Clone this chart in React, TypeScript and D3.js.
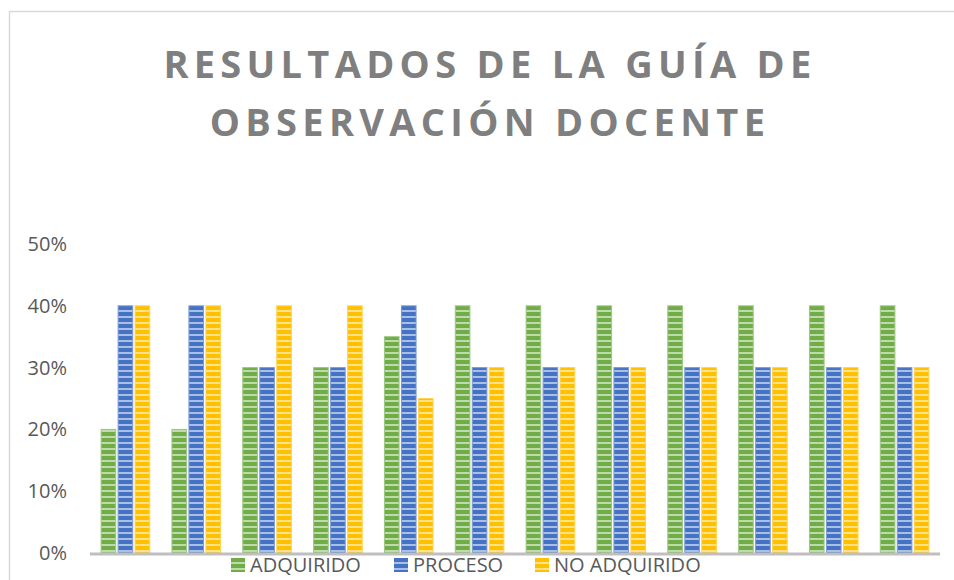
import React from 'react'
import * as d3 from 'd3'

const categories = ['1', '2', '3', '4', '5', '6', '7', '8', '9', '10', '11', '12']
const adquirido = [0.2, 0.2, 0.3, 0.3, 0.35, 0.4, 0.4, 0.4, 0.4, 0.4, 0.4, 0.4]
const proceso = [0.4, 0.4, 0.3, 0.3, 0.4, 0.3, 0.3, 0.3, 0.3, 0.3, 0.3, 0.3]
const noAdquirido = [0.4, 0.4, 0.4, 0.4, 0.25, 0.3, 0.3, 0.3, 0.3, 0.3, 0.3, 0.3]
const seriesNames = ['ADQUIRIDO', 'PROCESO', 'NO ADQUIRIDO']
const yTicks = [0, 0.1, 0.2, 0.3, 0.4, 0.5]
const titleLines = ['RESULTADOS DE LA GUÍA DE', 'OBSERVACIÓN DOCENTE']

const colors = ['#70AD47', '#4472C4', '#FFC000']
const edgeColors = ['#9cc781', '#7b9bd6', '#ffd350']

const width = 954
const height = 580
const margin = { top: 244, right: 14, bottom: 27, left: 90 }

export default function App() {
  const series = [adquirido, proceso, noAdquirido]

  const x0 = d3.scaleBand<string>()
    .domain(categories)
    .range([margin.left, width - margin.right])
    .paddingInner(0.3)
    .paddingOuter(0.15)

  const x1 = d3.scaleBand<number>()
    .domain([0, 1, 2])
    .range([0, x0.bandwidth()])
    .paddingInner(0.08)

  const y = d3.scaleLinear()
    .domain([0, 0.5])
    .range([height - margin.bottom, margin.top])

  const pct = d3.format('.0%')

  // posiciones de la leyenda
  const legendX = [231, 394, 535]

  return (
    <svg width={width} height={height} style={{ position: 'absolute', left: 0, top: 0, background: '#fff' }}>
      <defs>
        {colors.map((c, i) => (
          <pattern key={i} id={`stripe${i}`} width={6} height={6} patternUnits="userSpaceOnUse">
            <rect width={6} height={6} fill={c} />
            <rect y={4} width={6} height={2} fill="#fff" opacity={0.55} />
          </pattern>
        ))}
      </defs>

      {/* borde del área */}
      <path d="M9.5,590 V11.5 H960" fill="none" stroke="#d9d9d9" strokeWidth={1.5} />

      {/* título */}
      <text
        textAnchor="middle"
        fontFamily="'Open Sans', sans-serif"
        fontWeight={700}
        fontSize={38}
        letterSpacing={5.3}
        fill="#7f7f7f"
      >
        {titleLines.map((t, i) => (
          <tspan key={i} x={490} y={78 + i * 58}>{t}</tspan>
        ))}
      </text>

      {/* eje Y */}
      {yTicks.map(t => (
        <text
          key={t}
          x={67}
          y={y(t) + 7}
          textAnchor="end"
          fontFamily="'Open Sans', sans-serif"
          fontSize={20}
          fill="#595959"
        >
          {pct(t)}
        </text>
      ))}

      {/* barras */}
      {categories.map((c, ci) => (
        <g key={c} transform={`translate(${x0(c)},0)`}>
          {series.map((s, si) => (
            <rect
              key={si}
              x={x1(si)! + 0.5}
              y={y(s[ci])}
              width={x1.bandwidth() - 1}
              height={y(0) - y(s[ci])}
              fill={`url(#stripe${si})`}
              stroke={edgeColors[si]}
              strokeWidth={1}
            />
          ))}
        </g>
      ))}

      {/* línea base */}
      <line x1={margin.left} x2={width - margin.right} y1={y(0) + 1} y2={y(0) + 1} stroke="#bfbfbf" strokeWidth={3} />

      {/* leyenda */}
      {seriesNames.map((n, i) => (
        <g key={n} transform={`translate(${legendX[i]},558)`}>
          <rect width={14} height={14} fill={`url(#stripe${i})`} />
          <text x={19} y={14} fontFamily="'Open Sans', sans-serif" fontSize={20} fill="#595959">{n}</text>
        </g>
      ))}
    </svg>
  )
}
